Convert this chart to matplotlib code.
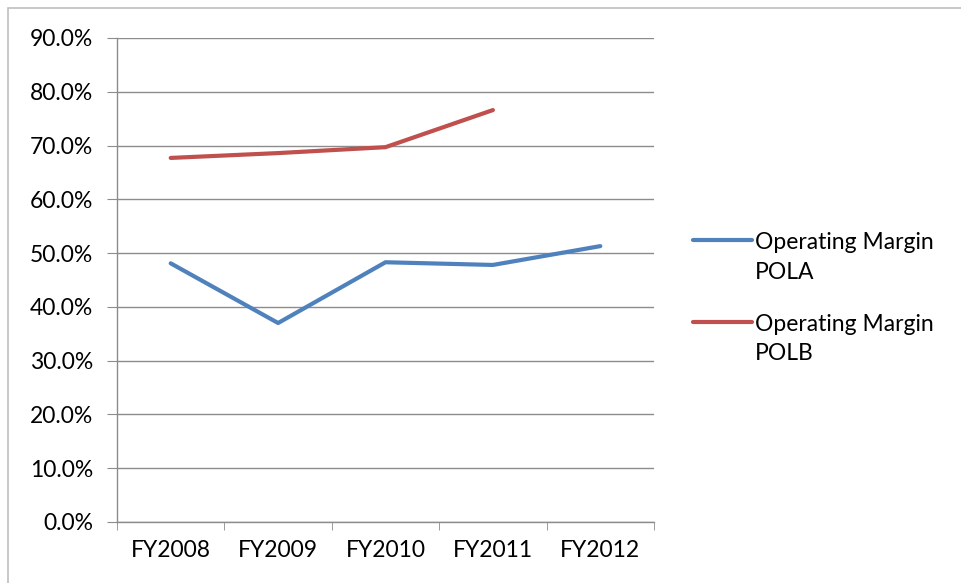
import matplotlib.pyplot as plt
from matplotlib.patches import Rectangle
from matplotlib.lines import Line2D
import numpy as np

# datos
years = ['FY2008', 'FY2009', 'FY2010', 'FY2011', 'FY2012']
pola = [48.1, 37.0, 48.3, 47.8, 51.3]
polb = [67.7, 68.6, 69.7, 76.6]
yticks = [0, 10, 20, 30, 40, 50, 60, 70, 80, 90]
series_names = ['Operating Margin\nPOLA', 'Operating Margin\nPOLB']
colors = ['#4F81BD', '#C0504D']

plt.rcParams['font.family'] = ['Lato', 'DejaVu Sans']
FS = 16.5

W, H = 961, 583
fig = plt.figure(figsize=(W / 100, H / 100), dpi=100)
ax = fig.add_axes([117 / W, (H - 522) / H, (654 - 117) / W, (522 - 38) / H])

x = np.arange(len(years))
ax.plot(x, pola, color=colors[0], lw=3.0, solid_capstyle='round')
ax.plot(x[:len(polb)], polb, color=colors[1], lw=3.0, solid_capstyle='round')

ax.set_xlim(-0.5, len(years) - 0.5)
ax.set_ylim(0, 90)
ax.set_yticks(yticks)
ax.set_yticklabels([f'{v:.1f}%' for v in yticks])
ax.set_xticks(x)
ax.set_xticklabels(years)
ax.set_xticks(np.arange(len(years) + 1) - 0.5, minor=True)

grid_c = '#8C8C8C'
ax.grid(axis='y', color=grid_c, lw=1)
ax.set_axisbelow(True)
for s in ['top', 'right']:
    ax.spines[s].set_visible(False)
for s in ['left', 'bottom']:
    ax.spines[s].set_color(grid_c)
    ax.spines[s].set_linewidth(1)

ax.tick_params(axis='y', length=7, color=grid_c, pad=10, labelsize=FS)
ax.tick_params(axis='x', which='major', length=0, pad=13, labelsize=FS)
ax.tick_params(axis='x', which='minor', length=6, color=grid_c, direction='out')

# leyenda a mano (linea alineada con la primera linea del texto)
leg_y = [240, 322]
for name, c, yy in zip(series_names, colors, leg_y):
    fy = (H - yy) / H
    fig.add_artist(Line2D([693 / W, 752 / W], [fy, fy], transform=fig.transFigure,
                          color=c, lw=3.0, solid_capstyle='round'))
    fig.text(755 / W, (H - yy + 8) / H, name, fontsize=FS, va='top', ha='left',
             linespacing=1.5)

# marco del grafico
fig.add_artist(Rectangle((8 / W, -0.05), 1.2, (H - 8) / H + 0.05, transform=fig.transFigure,
                         fill=False, edgecolor='#BFBFBF', lw=1.2))

fig.savefig('out.png', dpi=100)
